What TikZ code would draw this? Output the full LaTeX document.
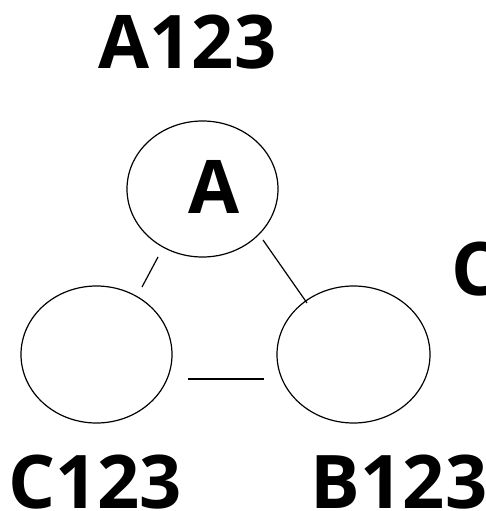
\documentclass[tikz,border=0pt]{standalone}
\usepackage{fontspec}
\setmainfont{Open Sans}
\usetikzlibrary{shapes.geometric,calc}
\begin{document}
\begin{tikzpicture}[x=1pt,y=-1pt,
  oval/.style={draw,ellipse,line width=1.2pt,inner sep=0pt,outer sep=0pt},
  lbl/.style={inner sep=0pt,anchor=base,font=\fontsize{74}{80}\selectfont\bfseries},
  link/.style={line width=1.2pt}]
\useasboundingbox (0,0) rectangle (486,511);
\node[oval,minimum width=151pt,minimum height=136pt] (A) at (202.5,189) {};
\node[oval,minimum width=151pt,minimum height=137pt] (C) at (96.5,354.5) {};
\node[oval,minimum width=153pt,minimum height=137pt] (B) at (353.5,354.5) {};
\node[lbl] (Atext) at (214,213) {A};
\node[lbl] (Alabel) at (187.5,68) {A123};
\node[lbl] (Clabel) at (95,508) {C123};
\node[lbl] (Blabel) at (399,508) {B123};
\node[lbl,anchor=base west] (Cright) at (451,295) {C};
\coordinate (ac1) at ($(A.center)+(-44.5,68)$);
\coordinate (ac2) at ($(C.center)+(45.5,-67.5)$);
\coordinate (ab1) at ($(A.center)+(60.5,51)$);
\coordinate (ab2) at ($(B.center)+(-46.5,-51.5)$);
\coordinate (cb1) at ($(C.center)+(91.5,24.5)$);
\coordinate (cb2) at ($(B.center)+(-89.5,24.5)$);
\draw[link] (ac1) -- (ac2);
\draw[link] (ab1) -- (ab2);
\draw[link] (cb1) -- (cb2);
\end{tikzpicture}
\end{document}
